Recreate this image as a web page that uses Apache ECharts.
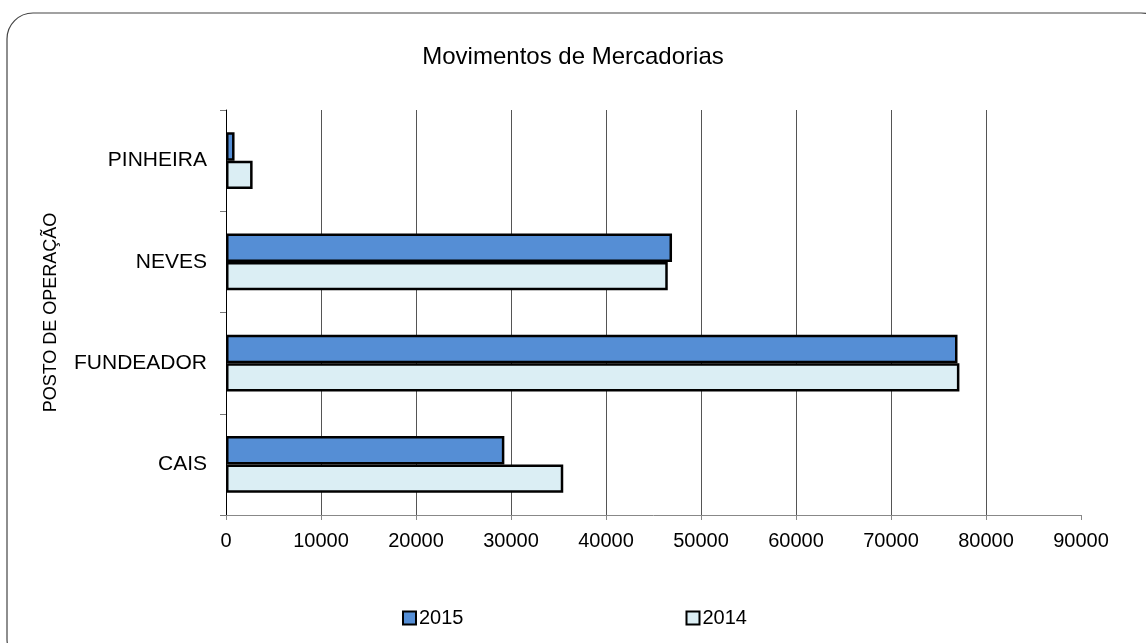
<!DOCTYPE html>
<html>
<head>
<meta charset="utf-8">
<script src="https://cdn.jsdelivr.net/npm/echarts@6/dist/echarts.min.js"></script>
<style>
  html, body { margin: 0; padding: 0; background: #fff; }
  #chart { width: 1146px; height: 643px; }
</style>
</head>
<body>
<div id="chart"></div>
<script>
// 데이터
const categories = ['CAIS', 'FUNDEADOR', 'NEVES', 'PINHEIRA'];
const values2015 = [29300, 77000, 46950, 900];
const values2014 = [35500, 77200, 46500, 2800];
const xTicks = [0, 10000, 20000, 30000, 40000, 50000, 60000, 70000, 80000, 90000];

const font = 'Liberation Sans, Arial, sans-serif';
const chart = echarts.init(document.getElementById('chart'));

const options = {
  animation: false,
  backgroundColor: '#fff',
  graphic: [{
    type: 'rect',
    shape: { x: 7, y: 13, width: 1160, height: 652, r: 26 },
    style: { fill: 'none', stroke: '#444', lineWidth: 1.2 },
    silent: true
  }],
  title: {
    text: 'Movimentos de Mercadorias',
    left: 'center',
    top: 40,
    textStyle: { fontFamily: font, fontSize: 24, fontWeight: 'normal', color: '#000' }
  },
  legend: {
    left: 397,
    top: 603,
    itemGap: 222,
    itemWidth: 13,
    itemHeight: 13,
    icon: 'rect',
    data: ['2015', '2014'],
    textStyle: { fontFamily: font, fontSize: 20, color: '#000', padding: [0, 0, 0, -2] }
  },
  grid: { left: 226, right: 65, top: 110, bottom: 128 },
  xAxis: {
    type: 'value',
    min: xTicks[0],
    max: xTicks[xTicks.length - 1],
    interval: 10000,
    axisLine: { show: true, lineStyle: { color: '#888', width: 1 } },
    axisTick: { show: true, length: 5, lineStyle: { color: '#888' } },
    axisLabel: { fontFamily: font, fontSize: 20, color: '#000', margin: 16, formatter: v => String(v) },
    splitLine: { show: true, showMinLine: false, showMaxLine: false, lineStyle: { color: '#555', width: 1 } }
  },
  yAxis: {
    type: 'category',
    data: categories,
    name: 'POSTO DE OPERAÇÃO',
    nameLocation: 'middle',
    nameRotate: 90,
    nameGap: 166,
    nameTextStyle: { fontFamily: font, fontSize: 18, color: '#000' },
    axisLine: { show: true, lineStyle: { color: '#000', width: 1 } },
    axisTick: { show: true, length: 6, lineStyle: { color: '#777' } },
    axisLabel: { fontFamily: font, fontSize: 21, color: '#000', margin: 19 }
  },
  series: [
    {
      name: '2015',
      type: 'bar',
      data: values2015,
      barGap: '0%',
      barCategoryGap: '44%',
      itemStyle: { color: '#558ED5', borderColor: '#000', borderWidth: 2.5 }
    },
    {
      name: '2014',
      type: 'bar',
      data: values2014,
      barGap: '0%',
      barCategoryGap: '44%',
      itemStyle: { color: '#DBEEF4', borderColor: '#000', borderWidth: 2.5 }
    }
  ]
};

chart.setOption(options);
</script>
</body>
</html>
